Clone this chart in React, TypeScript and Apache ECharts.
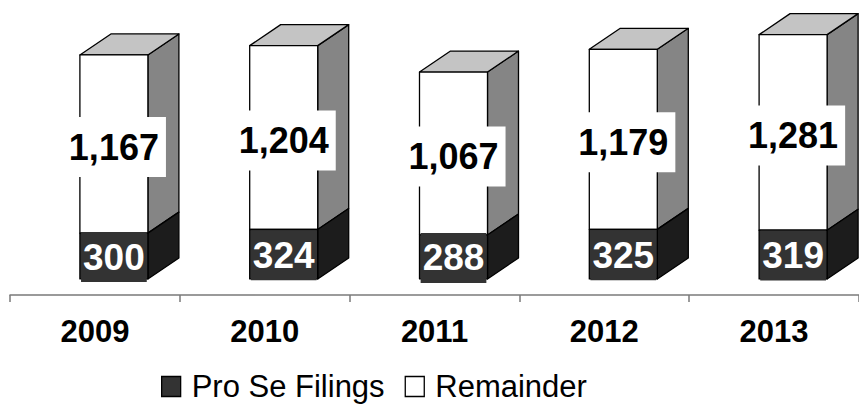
import React, { useEffect, useRef } from "react";
import * as echarts from "echarts";

const years = ["2009", "2010", "2011", "2012", "2013"];
const proSe = [300, 324, 288, 325, 319];
const remainder = [1167, 1204, 1067, 1179, 1281];

const FONT = "Liberation Sans, Arial, sans-serif";
const DX = 31;
const DY = 21;
const HALF = 34;
const SHIFT = 19;

function makeRender(kind: "pro" | "rem") {
  return (params: any, api: any) => {
    const cat = api.value(0);
    const pro = api.value(1);
    const rem = api.value(2);
    const base = kind === "pro" ? 0 : pro;
    const top = kind === "pro" ? pro : pro + rem;
    const pB = api.coord([cat, base]);
    const pT = api.coord([cat, top]);
    const cx = pB[0] + SHIFT;
    const x0 = cx - HALF;
    const x1 = cx + HALF;
    const yB = pB[1];
    const yT = pT[1];
    const front = kind === "pro" ? "#333333" : "#ffffff";
    const side = kind === "pro" ? "#1c1c1c" : "#858585";
    const stroke = { stroke: "#000", lineWidth: 1.3, lineJoin: "round" };
    const val = kind === "pro" ? pro : rem;
    const children: any[] = [
      {
        type: "polygon",
        shape: { points: [[x1, yT], [x1 + DX, yT - DY], [x1 + DX, yB - DY], [x1, yB]] },
        style: { fill: side, ...stroke },
      },
    ];
    if (kind === "rem") {
      children.push({
        type: "polygon",
        shape: { points: [[x0, yT], [x0 + DX, yT - DY], [x1 + DX, yT - DY], [x1, yT]] },
        style: { fill: "#c4c4c4", ...stroke },
      });
    }
    children.push(
      {
        type: "rect",
        shape: { x: x0, y: yT, width: x1 - x0, height: yB - yT },
        style: { fill: front, ...stroke },
      },
      {
        type: "text",
        x: cx,
        y: (yB + yT) / 2 + (kind === "pro" ? 1 : 3),
        style: {
          text: val.toLocaleString("en-US"),
          fill: kind === "pro" ? "#ffffff" : "#000000",
          font: kind === "pro" ? `bold 37px ${FONT}` : `bold 36px ${FONT}`,
          align: "center",
          verticalAlign: "middle",
          backgroundColor: kind === "pro" ? "#333333" : "#ffffff",
          padding: kind === "pro" ? [7, 2, 6, 2] : [13, 7, 11, 7],
        },
      }
    );
    return { type: "group", children };
  };
}

export default function App() {
  const ref = useRef<HTMLDivElement>(null);
  useEffect(() => {
    document.body.style.margin = "0";
    if (!ref.current) return;
    const chart = echarts.init(ref.current, null, { renderer: "svg" });
    const data = years.map((_, i) => [i, proSe[i], remainder[i]]);
    chart.setOption({
      animation: false,
      grid: { left: 10, right: -11, top: 0, bottom: 109 },
      xAxis: {
        type: "category",
        data: years,
        axisLine: { onZero: false, lineStyle: { color: "#7a7a7a", width: 1.5 } },
        axisTick: { show: true, length: 7, lineStyle: { color: "#7a7a7a", width: 1.5 } },
        axisLabel: {
          margin: 21,
          fontFamily: FONT,
          fontWeight: "bold",
          fontSize: 31,
          color: "#000",
          interval: 0,
        },
      },
      yAxis: { type: "value", min: -105, max: 1827, show: false, splitLine: { show: false } },
      legend: {
        left: 156,
        top: 366,
        itemWidth: 19,
        itemHeight: 20,
        itemGap: 20,
        textStyle: { fontFamily: FONT, fontSize: 31, color: "#000", padding: [0, 0, 0, 6] },
        data: [
          { name: "Pro Se Filings", icon: "rect", itemStyle: { color: "#333333", borderColor: "#000", borderWidth: 1.3 } },
          { name: "Remainder", icon: "rect", itemStyle: { color: "#ffffff", borderColor: "#000", borderWidth: 1.3 } },
        ],
      },
      series: [
        {
          name: "Remainder",
          type: "custom",
          renderItem: makeRender("rem"),
          data,
          z: 2,
          itemStyle: { color: "#ffffff" },
          encode: { x: 0, y: 2 },
        },
        {
          name: "Pro Se Filings",
          type: "custom",
          renderItem: makeRender("pro"),
          data,
          z: 3,
          itemStyle: { color: "#333333" },
          encode: { x: 0, y: 1 },
        },
      ],
    });
    return () => chart.dispose();
  }, []);
  return <div ref={ref} style={{ width: 859, height: 404 }} />;
}
